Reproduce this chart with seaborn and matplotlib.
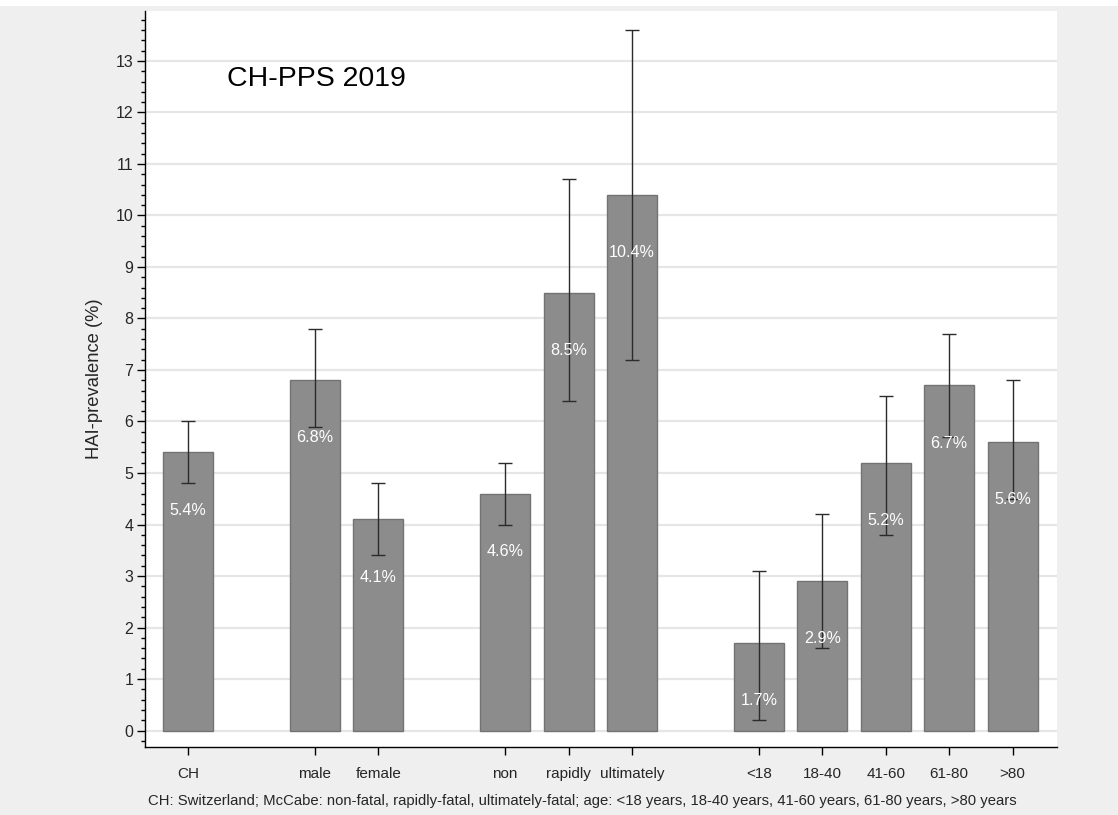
import matplotlib
matplotlib.use("Agg")
import matplotlib.pyplot as plt
import seaborn as sns
import numpy as np
from matplotlib.patches import Rectangle
from matplotlib.ticker import MultipleLocator

# ---- data ----
categories = ["CH", "male", "female", "non", "rapidly", "ultimately",
              "<18", "18-40", "41-60", "61-80", ">80"]
slots = [0, 2, 3, 5, 6, 7, 9, 10, 11, 12, 13]
prevalence = [5.4, 6.8, 4.1, 4.6, 8.5, 10.4, 1.7, 2.9, 5.2, 6.7, 5.6]
ci_low = [4.8, 5.9, 3.4, 4.0, 6.4, 7.2, 0.2, 1.6, 3.8, 5.7, 4.5]
ci_high = [6.0, 7.8, 4.8, 5.2, 10.7, 13.6, 3.1, 4.2, 6.5, 7.7, 6.8]
value_labels = ["5.4%", "6.8%", "4.1%", "4.6%", "8.5%", "10.4%",
                "1.7%", "2.9%", "5.2%", "6.7%", "5.6%"]

sns.set_theme(style="white")
plt.rcParams["font.family"] = ["Liberation Sans", "DejaVu Sans"]

BG = "#efefef"
fig = plt.figure(figsize=(11.18, 8.15), dpi=100, facecolor=BG)
fig.patches.append(Rectangle((0, 1 - 6 / 815), 1, 6 / 815, transform=fig.transFigure,
                             facecolor="white", edgecolor="none", zorder=0))
ax = fig.add_axes([145 / 1118, 1 - 747 / 815, (1057 - 145) / 1118, (747 - 11) / 815])
ax.set_facecolor("white")

sns.barplot(x=slots, y=prevalence, native_scale=True, width=0.79, color="#8c8c8c",
            saturation=1, edgecolor="#737373", linewidth=1.0, errorbar=None, ax=ax,
            zorder=2)

y = np.array(prevalence)
ax.errorbar(slots, y, yerr=[y - np.array(ci_low), np.array(ci_high) - y],
            fmt="none", ecolor="#2b2b2b", elinewidth=1.0, capsize=4.8,
            capthick=1.0, zorder=3)

for xs, v, lab in zip(slots, prevalence, value_labels):
    ax.text(xs, v - 1.12, lab, color="white", ha="center", va="center",
            fontsize=11.6, zorder=4)

ax.set_xlim(-0.68, 13.7)
ax.set_ylim(-0.32, 13.97)
ax.yaxis.set_major_locator(MultipleLocator(1))
ax.yaxis.set_minor_locator(MultipleLocator(0.2))
ax.set_yticks(range(0, 14))
ax.set_xticks(slots)
ax.set_xticklabels(categories)
ax.grid(axis="y", which="major", color="#e6e6e6", linewidth=1.6, zorder=0)
ax.grid(axis="x", visible=False)
ax.set_axisbelow(True)

for s in ["top", "right"]:
    ax.spines[s].set_visible(False)
for s in ["left", "bottom"]:
    ax.spines[s].set_color("black")
    ax.spines[s].set_linewidth(1.0)

ax.tick_params(axis="y", which="major", direction="out", length=5.5, width=1,
               color="black", labelsize=11.5, pad=3, left=True)
ax.tick_params(axis="y", which="minor", direction="out", length=3.2, width=1,
               color="black", left=True)
ax.tick_params(axis="x", which="major", direction="out", length=5.5, width=1,
               color="black", labelsize=11, pad=9, bottom=True)

ax.set_xlabel("")
ax.set_ylabel("HAI-prevalence (%)", fontsize=13.2, labelpad=9)

ax.text(0.09, 0.907, "CH-PPS 2019", transform=ax.transAxes, fontsize=20.5,
        ha="left", va="center", color="black")

fig.text(582 / 1118, 1 - 801 / 815,
         "CH: Switzerland; McCabe: non-fatal, rapidly-fatal, ultimately-fatal; "
         "age: <18 years, 18-40 years, 41-60 years, 61-80 years, >80 years",
         ha="center", va="center", fontsize=10.7)

fig.savefig("out.png", dpi=100, facecolor=BG)
